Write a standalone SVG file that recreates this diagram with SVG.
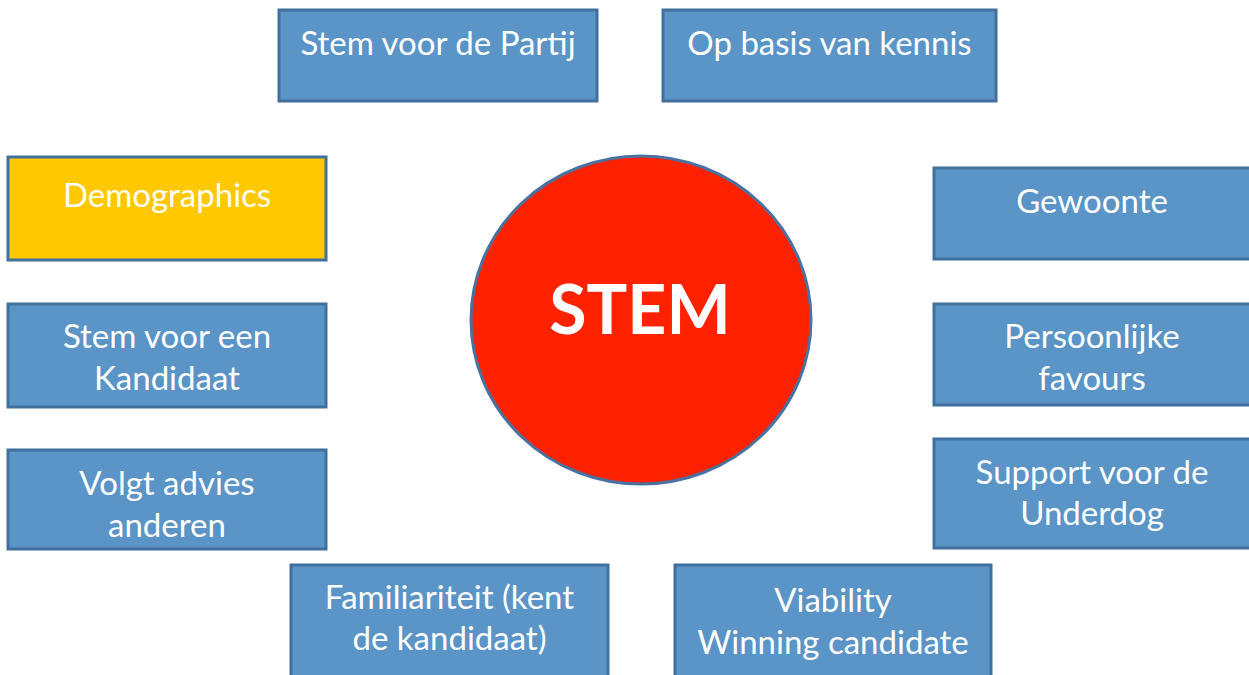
<svg xmlns="http://www.w3.org/2000/svg" width="1249" height="675" viewBox="0 0 1249 675">
  <style>
    .box { fill: #5B94C6; stroke: #41709E; stroke-width: 3; }
    .gold { fill: #FFC800; stroke: #41709E; stroke-width: 3; }
    .lbl { font-family: Lato, "Liberation Sans", sans-serif; font-size: 33px; fill: #FFFFFF; text-anchor: middle; }
    .big { font-family: Lato, "Liberation Sans", sans-serif; font-size: 68px; font-weight: bold; fill: #FFFFFF; text-anchor: middle; }
  </style>
  <rect width="1249" height="675" fill="#FFFFFF"/>
  <g id="connectors"/>
  <g id="stem">
    <ellipse cx="641" cy="320" rx="170" ry="164" fill="#FF2200" stroke="#4A72A0" stroke-width="3"/>
    <text class="big" x="640" y="334">STEM</text>
  </g>
  <g id="partij">
    <rect class="box" x="279" y="10" width="318" height="91"/>
    <text class="lbl" x="438" y="55">Stem voor de Partij</text>
  </g>
  <g id="kennis">
    <rect class="box" x="663" y="10" width="333" height="91"/>
    <text class="lbl" x="829.5" y="55">Op basis van kennis</text>
  </g>
  <g id="demographics">
    <rect class="gold" x="8" y="157" width="318" height="103"/>
    <text class="lbl" x="167" y="207">Demographics</text>
  </g>
  <g id="gewoonte">
    <rect class="box" x="934" y="168" width="318" height="91"/>
    <text class="lbl" x="1092" y="213">Gewoonte</text>
  </g>
  <g id="favours">
    <rect class="box" x="934" y="304" width="318" height="101"/>
    <text class="lbl" x="1092" y="348">Persoonlijke</text>
    <text class="lbl" x="1092" y="390">favours</text>
  </g>
  <g id="underdog">
    <rect class="box" x="934" y="439" width="318" height="109"/>
    <text class="lbl" x="1092" y="484">Support voor de</text>
    <text class="lbl" x="1092" y="525">Underdog</text>
  </g>
  <g id="kandidaat">
    <rect class="box" x="8" y="304" width="318" height="103"/>
    <text class="lbl" x="167" y="348">Stem voor een</text>
    <text class="lbl" x="167" y="390">Kandidaat</text>
  </g>
  <g id="advies">
    <rect class="box" x="8" y="450" width="318" height="99"/>
    <text class="lbl" x="167" y="495">Volgt advies</text>
    <text class="lbl" x="167" y="537">anderen</text>
  </g>
  <g id="familiariteit">
    <rect class="box" x="291" y="565" width="317" height="130"/>
    <text class="lbl" x="449.5" y="609">Familiariteit (kent</text>
    <text class="lbl" x="449.5" y="650">de kandidaat)</text>
  </g>
  <g id="viability">
    <rect class="box" x="675" y="565" width="316" height="130"/>
    <text class="lbl" x="833" y="612">Viability</text>
    <text class="lbl" x="833" y="654">Winning candidate</text>
  </g>
</svg>
